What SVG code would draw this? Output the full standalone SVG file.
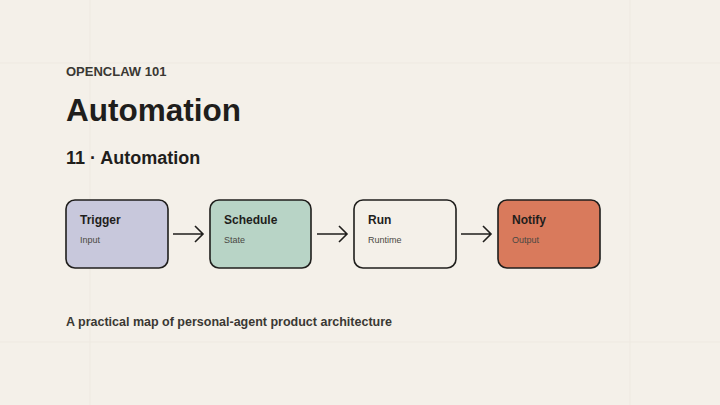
<svg xmlns="http://www.w3.org/2000/svg" width="720" height="405" viewBox="0 0 720 405">
<style>
text{font-family:"Liberation Sans",Arial,sans-serif;fill:#1f1e1c}
.box{stroke:#1f1e1c;stroke-width:1.6}
.t{font-size:12px;font-weight:bold}
.s{font-size:9px;fill:#4a4843}
.a{stroke:#1f1e1c;stroke-width:1.6;fill:none}
.g{stroke:#eee9e1;stroke-width:1}
</style>
<rect width="720" height="405" fill="#f4f0e9"/>
<line class="g" x1="0" y1="63" x2="720" y2="63"/>
<line class="g" x1="0" y1="342" x2="720" y2="342"/>
<line class="g" x1="90" y1="0" x2="90" y2="405"/>
<line class="g" x1="630" y1="0" x2="630" y2="405"/>
<text x="66" y="76" font-size="13" font-weight="bold" style="fill:#3a3833">OPENCLAW 101</text>
<text x="66" y="121" font-size="31.5" font-weight="bold">Automation</text>
<text x="66" y="164" font-size="18" font-weight="bold">11 · Automation</text>
<g id="trigger"><rect class="box" x="66" y="200" width="102" height="68" rx="9" fill="#c8c8dc"/><text class="t" x="80" y="224">Trigger</text><text class="s" x="80" y="243">Input</text></g>
<g id="schedule"><rect class="box" x="210" y="200" width="101" height="68" rx="9" fill="#b8d4c6"/><text class="t" x="224" y="224">Schedule</text><text class="s" x="224" y="243">State</text></g>
<g id="run"><rect class="box" x="354" y="200" width="102" height="68" rx="9" fill="#f4f0e9"/><text class="t" x="368" y="224">Run</text><text class="s" x="368" y="243">Runtime</text></g>
<g id="notify"><rect class="box" x="498" y="200" width="102" height="68" rx="9" fill="#d97a5c"/><text class="t" x="512" y="224">Notify</text><text class="s" x="512" y="243">Output</text></g>
<g id="connectors">
<path class="a" d="M173 234H203M195 226L203 234L195 242"/>
<path class="a" d="M317 234H347M339 226L347 234L339 242"/>
<path class="a" d="M461 234H491M483 226L491 234L483 242"/>
</g>
<text x="66" y="326" font-size="12.5" font-weight="bold" style="fill:#3a3833">A practical map of personal-agent product architecture</text>
</svg>
